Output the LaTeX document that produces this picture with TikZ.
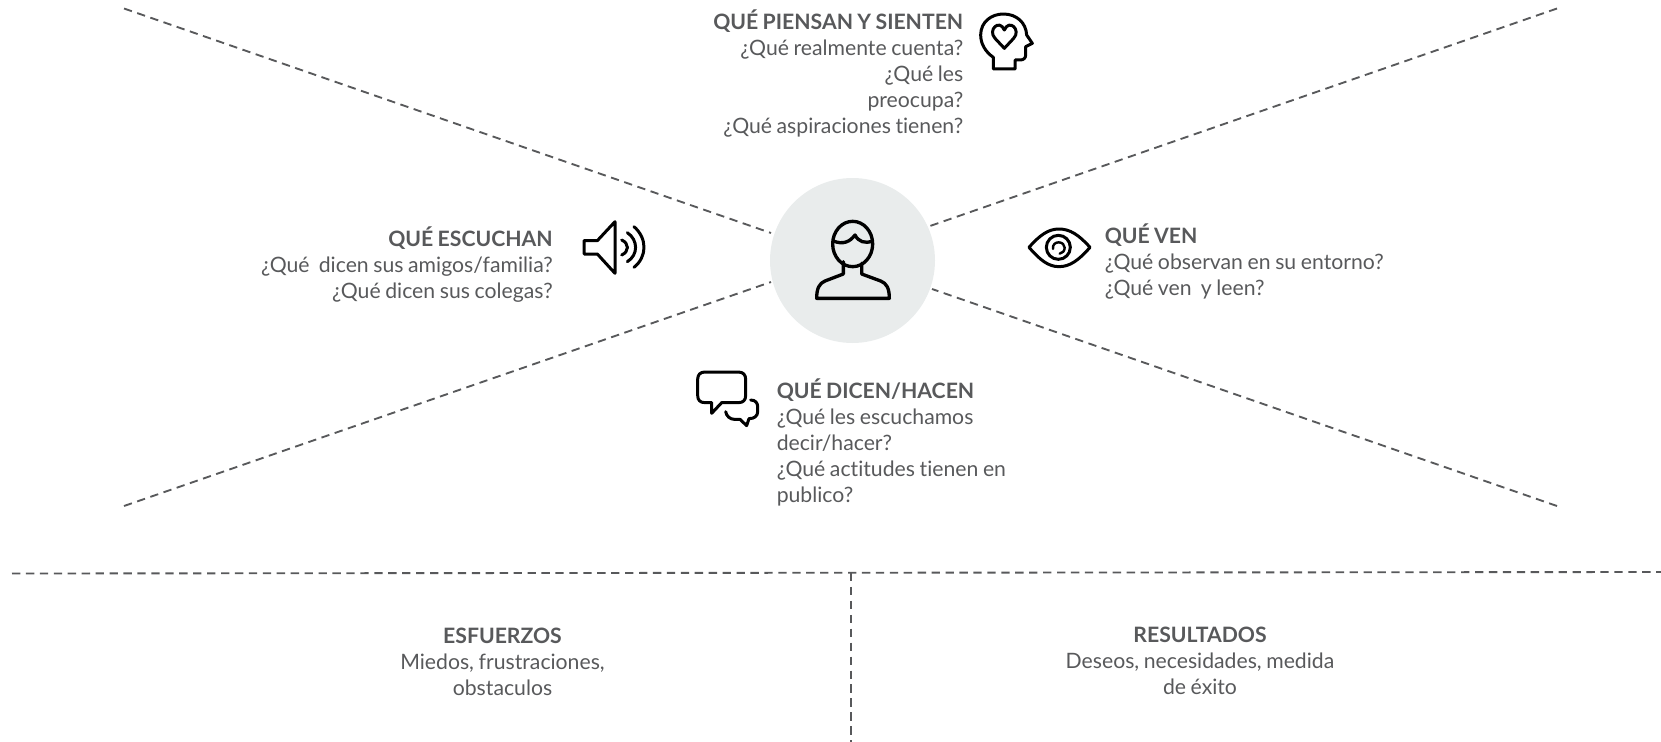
\documentclass[tikz,border=0pt]{standalone}
\usepackage{fontspec}
\setmainfont{Lato}[Ligatures=NoCommon,WordSpace=0.85]
\definecolor{textgray}{HTML}{58595B}
\definecolor{linegray}{HTML}{58595B}
\definecolor{circlegray}{HTML}{E9ECEC}
\tikzset{
  bloque/.style={inner sep=0pt,text=textgray,font=\fontsize{15.9}{19.5}\selectfont},
  guion/.style={draw=linegray,line width=1.4pt,dash pattern=on 6.25pt off 4.2pt},
  icono/.style={draw=black,line width=2.25pt,line join=round,line cap=round}
}
\begin{document}
\begin{tikzpicture}[x=.75pt,y=-.75pt]
  \useasboundingbox (0,0) rectangle (1661,742);
  \node[circle,fill=circlegray,minimum size=123.75pt,inner sep=0pt] (persona) at (852.5,260.5) {};

  \coordinate (supizq) at (124,8.5);
  \coordinate (supizqfin) at (771,233);
  \coordinate (supder) at (1557,8.5);
  \coordinate (supderfin) at (930,226);
  \coordinate (infizq) at (124,506);
  \coordinate (infizqfin) at (771,282);
  \coordinate (infder) at (1557,506);
  \coordinate (infderfin) at (932,289);
  \coordinate (horizizq) at (12,573.5);
  \coordinate (horizder) at (1661,572);
  \coordinate (vertsup) at (851,573);
  \coordinate (vertinf) at (851,742);
  \draw[guion] (supizq) -- (supizqfin);
  \draw[guion] (supder) -- (supderfin);
  \draw[guion] (infizq) -- (infizqfin);
  \draw[guion] (infder) -- (infderfin);
  \draw[guion] (horizizq) -- (horizder);
  \draw[guion] (vertsup) -- (vertinf);

  \node[bloque,anchor=north east,align=right] (piensan) at (963.5,9.5) {\textbf{QUÉ PIENSAN Y SIENTEN}\\¿Qué realmente cuenta?\\¿Qué les\\preocupa?\\¿Qué aspiraciones tienen?};
  \node[bloque,anchor=north east,align=right] (escuchan) at (553,227) {\textbf{QUÉ ESCUCHAN}\\¿Qué\ \ dicen sus amigos/familia?\\¿Qué dicen sus colegas?};
  \node[bloque,anchor=north west,align=left] (ven) at (1104.5,223.5) {\textbf{QUÉ VEN}\\¿Qué observan en su entorno?\\¿Qué ven\ \ y leen?};
  \node[bloque,anchor=north west,align=left] (dicen) at (776.5,379) {\textbf{QUÉ DICEN/HACEN}\\¿Qué les escuchamos\\decir/hacer?\\¿Qué actitudes tienen en\\publico?};
  \node[bloque,anchor=north,align=center] (esfuerzos) at (502.5,628) {\textbf{ESFUERZOS}\\Miedos, frustraciones,\\obstaculos};
  \node[bloque,anchor=north,align=center] (resultados) at (1200,627) {\textbf{RESULTADOS}\\Deseos, necesidades, medida\\de éxito};

  \begin{scope}[shift={(960,0)},x=.25pt,y=-.25pt]
    \draw[icono] (100,207) -- (100,172) .. controls (75,155) and (62,130) .. (62,105)
      .. controls (62,65) and (95,42) .. (130,42) .. controls (170,42) and (198,68) .. (200,105)
      -- (217,130) -- (197,140) -- (197,165) .. controls (197,175) and (190,180) .. (180,180)
      -- (165,180) -- (165,207) -- cycle;
    \draw[icono] (133,145) -- (105,115) .. controls (82,90) and (118,55) .. (133,90)
      .. controls (148,55) and (184,90) .. (161,115) -- cycle;
  \end{scope}
  \begin{scope}[shift={(570,210)},x=.25pt,y=-.25pt]
    \draw[icono] (135,35) -- (82,92) -- (42,92) -- (42,132) -- (82,132) -- (135,190) -- cycle;
    \draw[icono] (155,90) .. controls (178,100) and (178,125) .. (155,135);
    \draw[icono] (172,68) .. controls (205,90) and (205,135) .. (172,155);
    \draw[icono] (192,50) .. controls (232,85) and (232,140) .. (192,172);
  \end{scope}
  \begin{scope}[shift={(760,170)},x=.25pt,y=-.25pt]
    \draw[icono,line width=2.5pt] (278,222) ellipse [x radius=60,y radius=68];
    \draw[icono,line width=2.5pt] (220,213) .. controls (250,225) and (270,215) .. (285,195)
      .. controls (295,215) and (315,222) .. (337,213);
    \draw[icono,line width=2.5pt] (250,275) -- (250,312) -- (195,333) .. controls (178,340) and (170,355) .. (170,385)
      -- (388,385) .. controls (388,355) and (380,340) .. (362,333) -- (305,312) -- (305,280);
  \end{scope}
  \begin{scope}[shift={(1015,215)},x=.25pt,y=-.25pt]
    \draw[icono] (42,97) .. controls (75,60) and (100,42) .. (132,42) .. controls (165,42) and (192,60) .. (225,97)
      .. controls (192,135) and (165,155) .. (132,155) .. controls (100,155) and (75,135) .. (42,97) -- cycle;
    \draw[icono] (130,97) circle (36);
    \draw[icono,line width=1.8pt] (114,102) .. controls (112,88) and (122,82) .. (131,82) .. controls (142,82) and (149,90) .. (149,98) .. controls (149,108) and (142,115) .. (134,116);
  \end{scope}
  \begin{scope}[shift={(685,360)},x=.25pt,y=-.25pt]
    \draw[icono] (60,36) -- (160,36) .. controls (175,36) and (182,45) .. (182,58) -- (182,106)
      .. controls (182,120) and (175,128) .. (160,128) -- (110,128) -- (80,160) -- (80,128) -- (60,128)
      .. controls (45,128) and (38,120) .. (38,106) -- (38,58) .. controls (38,45) and (45,36) .. (60,36) -- cycle;
    \draw[icono] (197,120) .. controls (212,120) and (218,130) .. (218,140) -- (218,155)
      .. controls (218,168) and (208,176) .. (192,176) -- (185,197) -- (165,178) -- (148,178)
      .. controls (135,178) and (124,168) .. (122,155);
  \end{scope}
\end{tikzpicture}
\end{document}
